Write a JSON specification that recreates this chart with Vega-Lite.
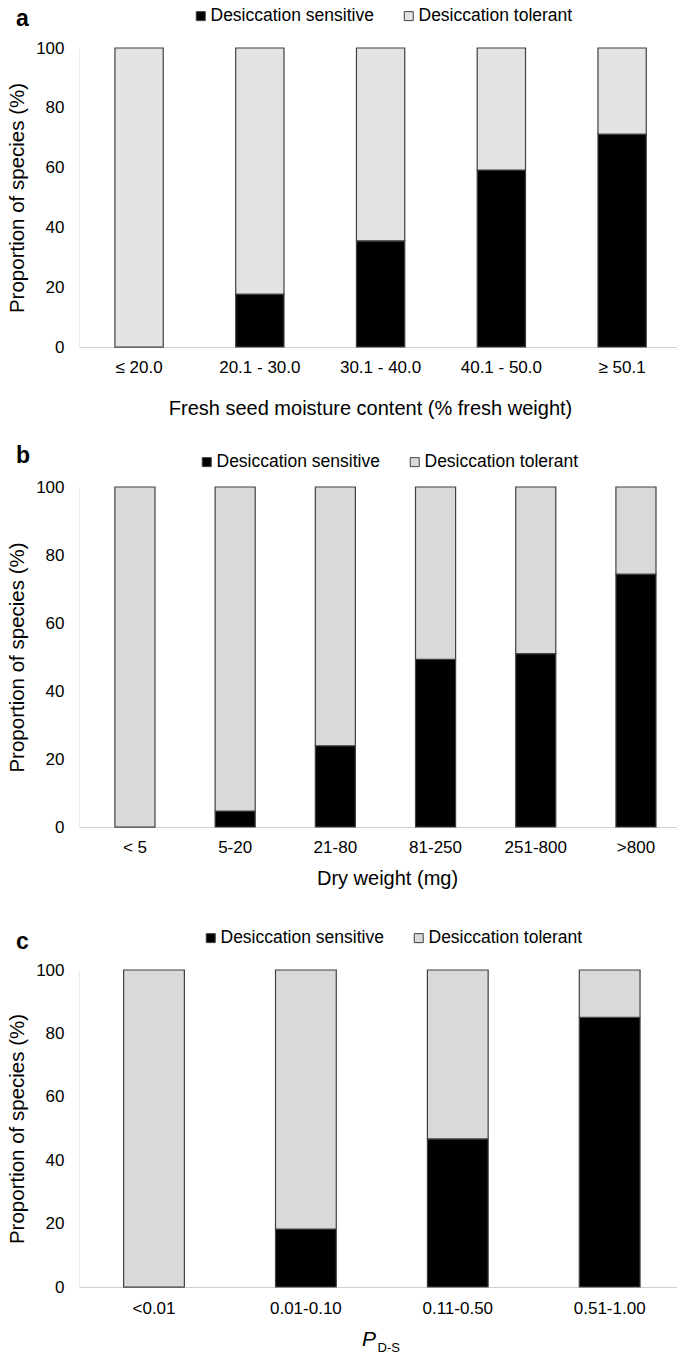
{
  "$schema": "https://vega.github.io/schema/vega-lite/v6.json",
  "padding": {"left": 7, "right": 0, "top": 7, "bottom": 0},
  "background": "white",
  "config": {
    "font": "Liberation Sans",
    "view": {"stroke": null},
    "axis": {"labelFont": "Liberation Sans", "titleFont": "Liberation Sans", "labelColor": "#000000", "titleColor": "#000000", "titleFontWeight": "normal", "grid": false, "ticks": false, "tickSize": 0, "labelFontSize": 17},
    "axisX": {"labelAngle": 0, "domainColor": "#d0d0d0", "domainWidth": 1.2, "titleFontSize": 20, "labelPadding": 12},
    "axisY": {"domainColor": "#ececec", "titleFontSize": 20.5, "labelPadding": 15, "titlePadding": 8},
    "legend": {"labelFont": "Liberation Sans", "labelFontSize": 17.5, "labelColor": "#000000", "symbolType": "square", "symbolSize": 81, "symbolStrokeColor": "#404040", "symbolStrokeWidth": 1, "labelOffset": 1, "columnPadding": 26, "padding": 0, "direction": "horizontal", "orient": "none", "title": null, "labelLimit": 300},
    "title": {"font": "Liberation Sans", "fontSize": 23, "fontWeight": "bold", "color": "#000000", "anchor": "start", "frame": "group", "baseline": "alphabetic"}
  },
  "spacing": 41,
  "resolve": {"scale": {"x": "independent", "y": "independent", "color": "independent"}, "legend": {"color": "independent"}},
  "vconcat": [
    {
      "spacing": 27,
      "resolve": {"scale": {"x": "independent", "y": "independent", "color": "independent"}, "legend": {"color": "independent"}},
      "vconcat": [
        {
          "title": {"text": "a", "dx": -63, "offset": -24},
          "width": 598,
          "height": 299,
          "data": {"values": [
            {"cat": "≤ 20.0", "type": "Desiccation sensitive", "pct": 0, "ord": 1},
            {"cat": "≤ 20.0", "type": "Desiccation tolerant", "pct": 100, "ord": 2},
            {"cat": "20.1 - 30.0", "type": "Desiccation sensitive", "pct": 17.7, "ord": 1},
            {"cat": "20.1 - 30.0", "type": "Desiccation tolerant", "pct": 82.3, "ord": 2},
            {"cat": "30.1 - 40.0", "type": "Desiccation sensitive", "pct": 35.5, "ord": 1},
            {"cat": "30.1 - 40.0", "type": "Desiccation tolerant", "pct": 64.5, "ord": 2},
            {"cat": "40.1 - 50.0", "type": "Desiccation sensitive", "pct": 59.2, "ord": 1},
            {"cat": "40.1 - 50.0", "type": "Desiccation tolerant", "pct": 40.8, "ord": 2},
            {"cat": "≥ 50.1", "type": "Desiccation sensitive", "pct": 71.2, "ord": 1},
            {"cat": "≥ 50.1", "type": "Desiccation tolerant", "pct": 28.8, "ord": 2}
          ]},
          "mark": {"type": "bar", "stroke": "#404040", "strokeWidth": 1.2},
          "encoding": {
            "x": {"field": "cat", "type": "nominal", "sort": ["≤ 20.0", "20.1 - 30.0", "30.1 - 40.0", "40.1 - 50.0", "≥ 50.1"],
              "scale": {"paddingInner": 0.6, "paddingOuter": 0.276, "align": 0.539},
              "axis": {"title": "Fresh seed moisture content (% fresh weight)", "titlePadding": 23, "titleX": 291}},
            "y": {"field": "pct", "type": "quantitative", "stack": "zero", "scale": {"domain": [0, 100], "nice": false},
              "axis": {"title": "Proportion of species (%)", "values": [0, 20, 40, 60, 80, 100]}},
            "color": {"field": "type", "type": "nominal",
              "scale": {"domain": ["Desiccation sensitive", "Desiccation tolerant"], "range": ["#000000", "#e3e3e3"]},
              "legend": {"legendX": 113, "legendY": -41}},
            "order": {"field": "ord", "type": "quantitative"}
          }
        },
        {
          "title": {"text": "b", "dx": -63, "offset": -15},
          "width": 598,
          "height": 340,
          "data": {"values": [
            {"cat": "< 5", "type": "Desiccation sensitive", "pct": 0, "ord": 1},
            {"cat": "< 5", "type": "Desiccation tolerant", "pct": 100, "ord": 2},
            {"cat": "5-20", "type": "Desiccation sensitive", "pct": 4.7, "ord": 1},
            {"cat": "5-20", "type": "Desiccation tolerant", "pct": 95.3, "ord": 2},
            {"cat": "21-80", "type": "Desiccation sensitive", "pct": 23.9, "ord": 1},
            {"cat": "21-80", "type": "Desiccation tolerant", "pct": 76.1, "ord": 2},
            {"cat": "81-250", "type": "Desiccation sensitive", "pct": 49.3, "ord": 1},
            {"cat": "81-250", "type": "Desiccation tolerant", "pct": 50.7, "ord": 2},
            {"cat": "251-800", "type": "Desiccation sensitive", "pct": 51.0, "ord": 1},
            {"cat": "251-800", "type": "Desiccation tolerant", "pct": 49.0, "ord": 2},
            {"cat": ">800", "type": "Desiccation sensitive", "pct": 74.4, "ord": 1},
            {"cat": ">800", "type": "Desiccation tolerant", "pct": 25.6, "ord": 2}
          ]},
          "mark": {"type": "bar", "stroke": "#404040", "strokeWidth": 1.2},
          "encoding": {
            "x": {"field": "cat", "type": "nominal", "sort": ["< 5", "5-20", "21-80", "81-250", "251-800", ">800"],
              "scale": {"paddingInner": 0.6, "paddingOuter": 0.284, "align": 0.631},
              "axis": {"title": "Dry weight (mg)", "titlePadding": 13, "titleX": 308}},
            "y": {"field": "pct", "type": "quantitative", "stack": "zero", "scale": {"domain": [0, 100], "nice": false},
              "axis": {"title": "Proportion of species (%)", "values": [0, 20, 40, 60, 80, 100]}},
            "color": {"field": "type", "type": "nominal",
              "scale": {"domain": ["Desiccation sensitive", "Desiccation tolerant"], "range": ["#000000", "#d9d9d9"]},
              "legend": {"legendX": 119, "legendY": -34}},
            "order": {"field": "ord", "type": "quantitative"}
          }
        }
      ]
    },
    {
      "title": {"text": "c", "dx": -63, "offset": -25},
      "width": 598,
      "height": 317,
      "data": {"values": [
        {"cat": "<0.01", "type": "Desiccation sensitive", "pct": 0, "ord": 1},
        {"cat": "<0.01", "type": "Desiccation tolerant", "pct": 100, "ord": 2},
        {"cat": "0.01-0.10", "type": "Desiccation sensitive", "pct": 18.3, "ord": 1},
        {"cat": "0.01-0.10", "type": "Desiccation tolerant", "pct": 81.7, "ord": 2},
        {"cat": "0.11-0.50", "type": "Desiccation sensitive", "pct": 46.7, "ord": 1},
        {"cat": "0.11-0.50", "type": "Desiccation tolerant", "pct": 53.3, "ord": 2},
        {"cat": "0.51-1.00", "type": "Desiccation sensitive", "pct": 85.1, "ord": 1},
        {"cat": "0.51-1.00", "type": "Desiccation tolerant", "pct": 14.9, "ord": 2}
      ]},
      "resolve": {"axis": {"x": "independent"}},
      "layer": [
        {
          "mark": {"type": "bar", "stroke": "#404040", "strokeWidth": 1.2},
          "encoding": {
            "x": {"field": "cat", "type": "nominal", "sort": ["<0.01", "0.01-0.10", "0.11-0.50", "0.51-1.00"],
              "scale": {"paddingInner": 0.6, "paddingOuter": 0.2685, "align": 0.547},
              "axis": {"orient": "bottom", "labelPadding": 13, "title": "P", "titleFontStyle": "italic", "titleFontSize": 21, "titleAlign": "left", "titleBaseline": "alphabetic", "titleX": 282.5, "titleY": 58}},
            "y": {"field": "pct", "type": "quantitative", "stack": "zero", "scale": {"domain": [0, 100], "nice": false},
              "axis": {"title": "Proportion of species (%)", "values": [0, 20, 40, 60, 80, 100]}},
            "color": {"field": "type", "type": "nominal",
              "scale": {"domain": ["Desiccation sensitive", "Desiccation tolerant"], "range": ["#000000", "#d9d9d9"]},
              "legend": {"legendX": 123, "legendY": -41}},
            "order": {"field": "ord", "type": "quantitative"}
          }
        },
        {
          "mark": {"type": "rule", "opacity": 0},
          "encoding": {
            "x": {"field": "cat", "type": "nominal", "sort": ["<0.01", "0.01-0.10", "0.11-0.50", "0.51-1.00"],
              "axis": {"orient": "bottom", "labels": false, "domain": false, "ticks": false, "title": "D-S", "titleFontSize": 13, "titleAlign": "left", "titleBaseline": "alphabetic", "titleX": 298, "titleY": 64.5}}
          }
        }
      ]
    }
  ]
}
